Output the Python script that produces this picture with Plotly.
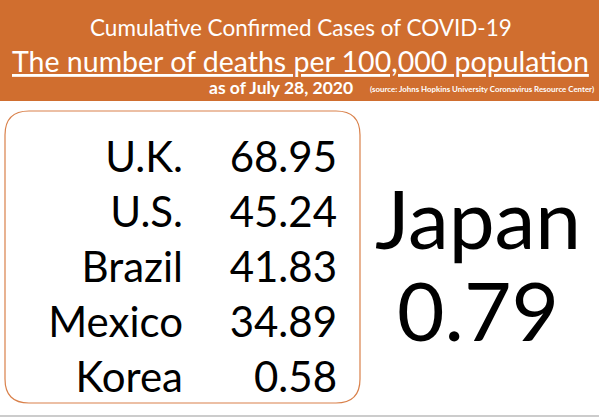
import plotly.graph_objects as go

# data
countries = ["U.K.", "U.S.", "Brazil", "Mexico", "Korea"]
deaths_per_100k = [68.95, 45.24, 41.83, 34.89, 0.58]
focus_country = "Japan"
focus_value = 0.79

title_top = "Cumulative Confirmed Cases of COVID-19"
title_main = "The number of deaths per 100,000 population"
date_note = "as of July 28, 2020"
source_note = "(source: Johns Hopkins University Coronavirus Resource Center)"

W, H = 599, 417
ORANGE = "#D06E2F"
FONT = "Lato"

fig = go.Figure()

# row positions for the box
row_y = [161 + i * 55 for i in range(len(countries))]

fig.add_trace(go.Scatter(
    x=[183] * len(countries), y=row_y, mode="text", text=countries,
    textposition="middle left", textfont=dict(family=FONT, size=42, color="black"),
    hoverinfo="skip", showlegend=False
))
fig.add_trace(go.Scatter(
    x=[337] * len(deaths_per_100k), y=row_y, mode="text",
    text=[f"{v:.2f}" for v in deaths_per_100k],
    textposition="middle left", textfont=dict(family=FONT, size=42, color="black"),
    hoverinfo="skip", showlegend=False
))
fig.add_trace(go.Scatter(
    x=[478, 478], y=[228, 320], mode="text",
    text=[focus_country, f"{focus_value:.2f}"],
    textposition="middle center", textfont=dict(family=FONT, size=82, color="black"),
    hoverinfo="skip", showlegend=False
))

# header band, box, bottom rule
fig.add_shape(type="rect", x0=0, x1=W, y0=0, y1=101, fillcolor=ORANGE, line_width=0, layer="below")
r = 24
x0, x1, y0, y1 = 5, 360, 111, 403
path = (f"M {x0+r},{y0} L {x1-r},{y0} Q {x1},{y0} {x1},{y0+r} L {x1},{y1-r} "
        f"Q {x1},{y1} {x1-r},{y1} L {x0+r},{y1} Q {x0},{y1} {x0},{y1-r} "
        f"L {x0},{y0+r} Q {x0},{y0} {x0+r},{y0} Z")
fig.add_shape(type="path", path=path, line=dict(color="#D9804A", width=1.2), fillcolor="rgba(0,0,0,0)")
fig.add_shape(type="line", x0=0, x1=W, y0=416, y1=416, line=dict(color="#BBBBBB", width=1.5))

fig.add_annotation(x=301, y=27, text=title_top, showarrow=False,
                   font=dict(family=FONT, size=22.5, color="white"))
fig.add_annotation(x=300, y=61, text=f"<u>{title_main}</u>", showarrow=False,
                   font=dict(family=FONT, size=28.5, color="white"))
fig.add_annotation(x=355, y=87, text=f"<b>{date_note}</b>", showarrow=False, xanchor="right",
                   font=dict(family=FONT, size=17.5, color="white"))
fig.add_annotation(x=596, y=89, text=f"<b>{source_note}</b>", showarrow=False, xanchor="right",
                   font=dict(family=FONT, size=7.9, color="white"))

fig.update_xaxes(range=[0, W], visible=False, fixedrange=True)
fig.update_yaxes(range=[H, 0], visible=False, fixedrange=True)
fig.update_layout(
    width=W, height=H, margin=dict(l=0, r=0, t=0, b=0),
    paper_bgcolor="white", plot_bgcolor="white",
)
fig.write_html("out.html", config={"displayModeBar": False},
               post_script="document.body.style.margin='0';")
